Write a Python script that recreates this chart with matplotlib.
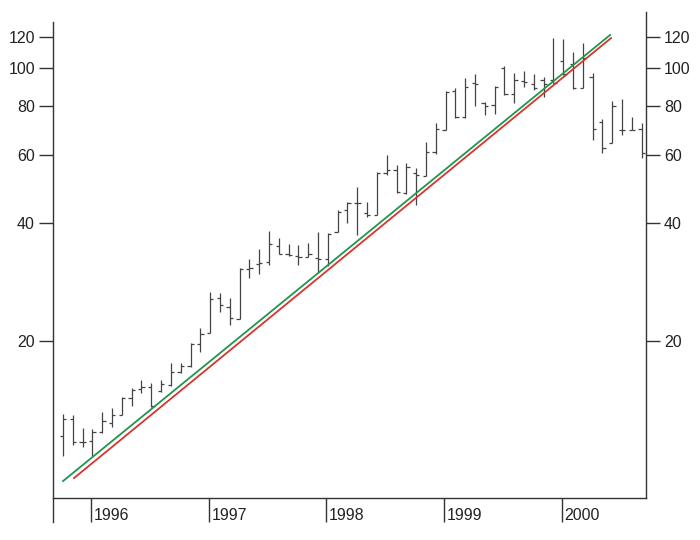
import matplotlib
matplotlib.use("Agg")
import matplotlib.pyplot as plt
from matplotlib.ticker import FixedLocator, NullLocator, FixedFormatter

plt.rcParams['font.family'] = ['Liberation Sans', 'DejaVu Sans']

# Monthly bars, Oct 1995 .. Sep 2000
start_year = 1995
start_month = 10
opens  = [11.43, 12.63, 11.00, 11.09, 11.70, 12.34, 12.93, 14.29, 15.07, 15.25,
          14.90, 15.43, 16.66, 17.26, 19.60, 20.97, 25.77, 24.44, 22.77, 30.57,
          31.48, 31.86, 35.00, 33.40, 33.00, 32.90, 32.60, 32.40, 38.02, 43.28,
          45.10, 42.50, 42.02, 53.82, 54.79, 47.80, 53.82, 52.88, 60.91, 69.50,
          87.26, 74.80, 91.50, 81.50, 80.35, 100.0, 85.73, 92.60, 90.90, 93.11,
          93.00, 104.0, 102.3, 88.82, 95.00, 72.70, 64.23, 69.50, 69.40, 69.76]
highs  = [13.00, 12.93, 11.98, 11.91, 13.16, 13.48, 14.38, 15.16, 15.89, 15.62,
          15.89, 17.57, 17.57, 19.77, 21.59, 26.69, 26.54, 25.77, 30.75, 32.43,
          34.39, 38.24, 36.70, 35.42, 35.21, 35.63, 38.00, 37.79, 43.28, 45.37,
          49.56, 45.37, 54.14, 59.85, 56.42, 57.09, 55.43, 64.61, 72.27, 87.26,
          88.82, 94.21, 96.46, 81.78, 89.88, 101.1, 97.03, 98.17, 96.50, 94.77,
          119.2, 118.5, 109.8, 115.8, 97.00, 73.99, 82.27, 83.24, 74.87, 72.27]
lows   = [10.16, 10.84, 10.71, 10.16, 11.63, 12.05, 12.93, 13.64, 14.72, 13.56,
          14.81, 15.34, 16.56, 17.16, 18.75, 20.97, 23.73, 21.98, 22.77, 28.99,
          29.68, 31.30, 33.39, 33.00, 31.30, 32.81, 29.86, 31.12, 38.02, 40.09,
          37.35, 41.53, 42.02, 53.19, 47.84, 47.56, 44.58, 52.88, 60.20, 69.35,
          74.42, 74.42, 79.88, 75.76, 76.21, 85.23, 81.30, 89.35, 87.78, 84.23,
          91.47, 96.00, 88.30, 88.82, 65.20, 60.56, 64.23, 67.33, 69.35, 58.80]
closes = [12.63, 11.03, 11.05, 11.70, 12.48, 12.93, 14.29, 14.98, 15.25, 13.62,
          15.52, 16.66, 17.26, 19.60, 20.84, 25.62, 24.73, 22.90, 30.57, 30.75,
          31.67, 35.42, 33.39, 33.20, 32.81, 33.40, 32.40, 37.60, 42.77, 45.10,
          45.00, 42.00, 53.82, 54.79, 48.00, 55.76, 53.19, 60.91, 69.76, 87.00,
          74.80, 89.35, 91.00, 80.00, 89.35, 85.50, 93.11, 92.00, 89.00, 90.94,
          91.50, 96.50, 88.82, 106.0, 69.76, 62.37, 79.88, 69.30, 69.20, 60.56]

# Trend lines (start date, start value) -> (end date, end value)
green_x = [1995.762, 2000.410]
green_y = [8.76, 121.4]
red_x = [1995.856, 2000.418]
red_y = [8.92, 119.2]

years = [1996, 1997, 1998, 1999, 2000]
price_ticks = [20, 40, 60, 80, 100, 120]
price_labels = ['20', '40', '60', '80', '100', '120']

W, H = 700, 540
fig = plt.figure(figsize=(7, 5.4), dpi=100)
ax = fig.add_axes([53 / W, 42 / H, 593 / W, 486 / H])
ax.set_yscale('log')
ax.set_xlim(1995.677, 2000.715)
ax.set_ylim(7.93, 139.0)

bar_color = '#444444'
tw = 0.028
for i in range(len(opens)):
    m = start_month - 1 + i
    x = start_year + m / 12.0 + 0.012
    ax.plot([x, x], [lows[i], highs[i]], color=bar_color, lw=0.9, solid_capstyle='butt')
    ax.plot([x - tw, x], [opens[i], opens[i]], color=bar_color, lw=0.9, solid_capstyle='butt')
    ax.plot([x, x + tw], [closes[i], closes[i]], color=bar_color, lw=0.9, solid_capstyle='butt')

ax.plot(green_x, green_y, color='#1f9650', lw=1.3)
ax.plot(red_x, red_y, color='#d8342c', lw=1.3)

# spines
spine_c = '#333333'
ax.spines['top'].set_visible(False)
ax.spines['left'].set_visible(False)
ax.spines['right'].set_color(spine_c)
ax.spines['bottom'].set_color(spine_c)
ax.spines['right'].set_linewidth(1.0)
ax.spines['bottom'].set_linewidth(1.0)
ax.plot([0, 0], [-24 / 486, 1 - 10 / 486], transform=ax.transAxes, color=spine_c,
        lw=1.0, clip_on=False)

# y ticks both sides
ax.yaxis.set_major_locator(FixedLocator(price_ticks))
ax.yaxis.set_major_formatter(FixedFormatter(price_labels))
ax.yaxis.set_minor_locator(NullLocator())
ax.tick_params(axis='y', which='major', direction='out', length=10, width=1.0,
               color=spine_c, labelsize=11.5, labelcolor='#222222', pad=3,
               left=True, right=True, labelleft=True, labelright=True)

# x ticks
ax.set_xticks(years)
ax.set_xticklabels([])
ax.xaxis.set_minor_locator(NullLocator())
ax.tick_params(axis='x', which='major', direction='out', length=17.5, width=1.0,
               color=spine_c)
for yr in years:
    ax.text(yr + 0.022, -0.037, str(yr), transform=ax.get_xaxis_transform(),
            ha='left', va='center', fontsize=11.5, color='#222222')

fig.savefig('out.png', dpi=100)
